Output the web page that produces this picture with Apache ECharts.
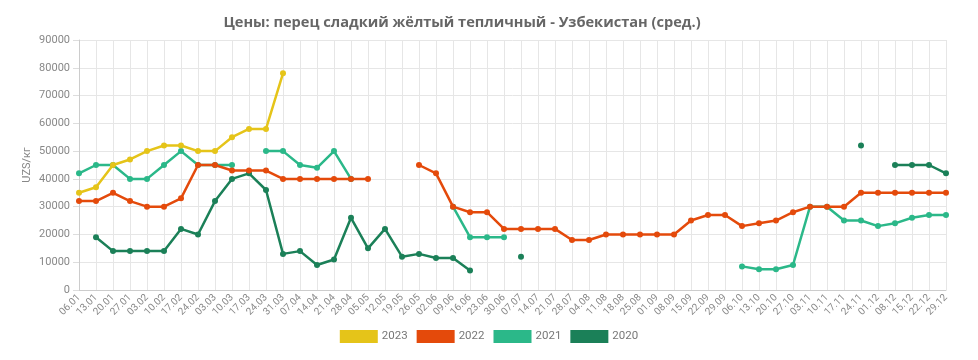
<!DOCTYPE html>
<html><head><meta charset="utf-8">
<script src="https://cdn.jsdelivr.net/npm/echarts@6/dist/echarts.min.js"></script>
<style>html,body{margin:0;padding:0;background:#fff}#c{width:978px;height:360px}</style>
</head><body><div id="c"></div>
<script>
const categories = ["06.01","13.01","20.01","27.01","03.02","10.02","17.02","24.02","03.03","10.03","17.03","24.03","31.03","07.04","14.04","21.04","28.04","05.05","12.05","19.05","26.05","02.06","09.06","16.06","23.06","30.06","07.07","14.07","21.07","28.07","04.08","11.08","18.08","25.08","01.09","08.09","15.09","22.09","29.09","06.10","13.10","20.10","27.10","03.11","10.11","17.11","24.11","01.12","08.12","15.12","22.12","29.12"];
const s2023 = [35000,37000,45000,47000,50000,52000,52000,50000,50000,55000,58000,58000,78000,null,null,null,null,null,null,null,null,null,null,null,null,null,null,null,null,null,null,null,null,null,null,null,null,null,null,null,null,null,null,null,null,null,null,null,null,null,null,null];
const s2022 = [32000,32000,35000,32000,30000,30000,33000,45000,45000,43000,43000,43000,40000,40000,40000,40000,40000,40000,null,null,45000,42000,30000,28000,28000,22000,22000,22000,22000,18000,18000,20000,20000,20000,20000,20000,25000,27000,27000,23000,24000,25000,28000,30000,30000,30000,35000,35000,35000,35000,35000,35000];
const s2021 = [42000,45000,45000,40000,40000,45000,50000,45000,45000,45000,null,50000,50000,45000,44000,50000,40000,null,null,null,null,null,30000,19000,19000,19000,null,null,null,null,null,null,null,null,null,null,null,null,null,8500,7500,7500,9000,30000,30000,25000,25000,23000,24000,26000,27000,27000];
const s2020 = [null,19000,14000,14000,14000,14000,22000,20000,32000,40000,42000,36000,13000,14000,9000,11000,26000,15000,22000,12000,13000,11500,11500,7000,null,null,12000,null,null,null,null,null,null,null,null,null,null,null,null,null,null,null,null,null,null,null,52000,null,45000,45000,45000,42000];
const yTicks = [0,10000,20000,30000,40000,50000,60000,70000,80000,90000];
const yName = 'UZS/кг';

const colors = ['#e5c419','#e44a0b','#2bb889','#1b8058'];
const mk = (name, data, color, z) => ({
  name, type:'line', data, color, z,
  symbol:'circle', symbolSize:6, connectNulls:false,
  lineStyle:{width:2.5, color}, itemStyle:{color}
});
const chart = echarts.init(document.getElementById('c'));
chart.setOption({
  animation:false,
  title:{text:'Цены: перец сладкий жёлтый тепличный - Узбекистан (сред.)', left:457, top:10, textAlign:'center',
    textStyle:{fontFamily:'Open Sans', fontWeight:'bold', fontSize:14.6, color:'#666'}},
  legend:{bottom:12, left:'center', itemWidth:38, itemHeight:13, itemGap:9, icon:'rect',
    textStyle:{fontFamily:'Roboto', fontSize:11.5, color:'#777', padding:[0,0,0,-1]},
    data:['2023','2022','2021','2020']},
  grid:{left:79, right:32, top:40, bottom:70},
  graphic:[{type:'text', x:27, y:165, rotation:Math.PI/2,
    style:{text:yName, fill:'#888', font:'11px Roboto', align:'center', verticalAlign:'middle'}}],
  xAxis:{type:'category', data:categories, boundaryGap:false,
    axisLine:{lineStyle:{color:'#ccc'}}, axisTick:{show:false},
    axisLabel:{rotate:45, interval:0, fontFamily:'Roboto', fontSize:10, color:'#888', margin:6},
    splitLine:{show:true, lineStyle:{color:'#e6e6e6'}}},
  yAxis:{type:'value', min:0, max:90000, interval:10000,
    axisLine:{show:true, lineStyle:{color:'#ccc'}}, axisTick:{show:true, length:6, lineStyle:{color:'#ddd'}},
    axisLabel:{fontFamily:'Roboto', fontSize:11, color:'#888', margin:9,
      formatter:v=> yTicks.includes(v)? String(v): ''},
    splitLine:{show:true, lineStyle:{color:'#e6e6e6'}}},
  series:[mk('2020',s2020,colors[3],2), mk('2021',s2021,colors[2],3), mk('2022',s2022,colors[1],4), mk('2023',s2023,colors[0],5)]
});
</script></body></html>
